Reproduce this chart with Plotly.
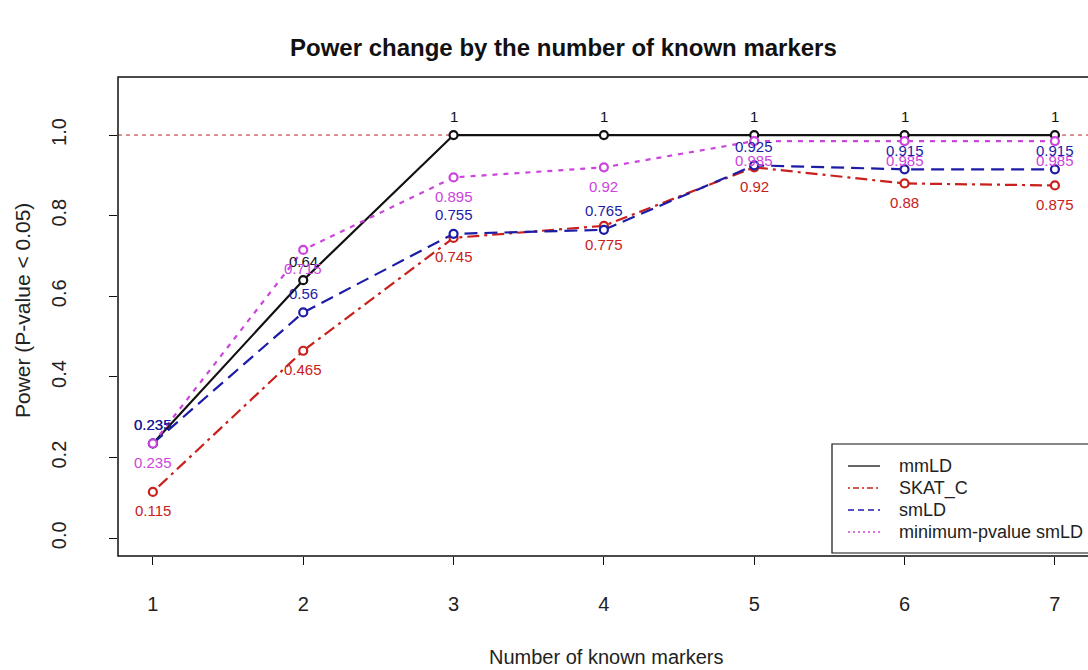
import plotly.graph_objects as go

# Power of each test by number of known markers
markers = [1, 2, 3, 4, 5, 6, 7]
mmld = [0.235, 0.64, 1.0, 1.0, 1.0, 1.0, 1.0]
skat_c = [0.115, 0.465, 0.745, 0.775, 0.92, 0.88, 0.875]
smld = [0.235, 0.56, 0.755, 0.765, 0.925, 0.915, 0.915]
minp_smld = [0.235, 0.715, 0.895, 0.92, 0.985, 0.985, 0.985]
x_ticks = [1, 2, 3, 4, 5, 6, 7]
y_ticks = [0.0, 0.2, 0.4, 0.6, 0.8, 1.0]
series_names = ["mmLD", "SKAT_C", "smLD", "minimum-pvalue smLD"]

FONT = "Liberation Sans, Arial, sans-serif"
W, H = 1088, 670
L, T, B = 118, 77, 556          # plot area edges in pixels
PW = W - L
PH = B - T


def px_x(px):
    return (px - L) / PW


def px_y(py):
    return (B - py) / PH


series = [
    # values, colour, dash, label side (+1 above, -1 below)
    (mmld, "#111111", "solid", 1),
    (skat_c, "#c8201c", "3px,5px,12px,5px", -1),
    (smld, "#1c1ca6", "13px,7px", 1),
    (minp_smld, "#cc44dd", "5px,6px", -1),
]
legend_dash = ["solid", "2px,3px,6px,3px", "6px,4px", "2px,3px"]

fig = go.Figure()

for (vals, col, dash, side), name in zip(series, series_names):
    fig.add_trace(go.Scatter(
        x=markers, y=vals, mode="lines+markers", name=name,
        line=dict(color=col, width=2.2, dash=dash),
        marker=dict(symbol="circle", size=8, color="white",
                    line=dict(color=col, width=2.2)),
        showlegend=False, cliponaxis=False,
    ))

annotations = []
for (vals, col, dash, side), name in zip(series, series_names):
    for xv, yv in zip(markers, vals):
        annotations.append(dict(
            x=xv, y=yv, xref="x", yref="y", text=f"{yv:g}",
            showarrow=False, yshift=19 * side,
            font=dict(family=FONT, size=15, color=col),
        ))

# title and axis titles
annotations.append(dict(
    x=px_x(563), y=px_y(47), xref="paper", yref="paper",
    text="<b>Power change by the number of known markers</b>",
    showarrow=False, xanchor="center", yanchor="middle",
    font=dict(family=FONT, size=24, color="#111111"),
))
annotations.append(dict(
    x=px_x(606), y=px_y(657), xref="paper", yref="paper",
    text="Number of known markers", showarrow=False,
    xanchor="center", yanchor="middle",
    font=dict(family=FONT, size=20, color="#222222"),
))
annotations.append(dict(
    x=px_x(22), y=px_y(311), xref="paper", yref="paper",
    text="Power (P-value < 0.05)", showarrow=False, textangle=-90,
    xanchor="center", yanchor="middle",
    font=dict(family=FONT, size=21, color="#222222"),
))

shapes = []
# reference line at full power
shapes.append(dict(type="line", xref="paper", yref="y", x0=0, x1=1.05,
                   y0=1.0, y1=1.0, layer="below",
                   line=dict(color="#b02a2a", width=1, dash="4px,4px")))
# plot frame (right side runs past the page edge)
shapes.append(dict(type="rect", xref="paper", yref="paper",
                   x0=0, x1=1.05, y0=0, y1=1,
                   line=dict(color="#111111", width=1.5)))

# legend box
shapes.append(dict(type="rect", xref="paper", yref="paper",
                   x0=px_x(832), x1=1.05, y0=px_y(553), y1=px_y(444),
                   fillcolor="white", line=dict(color="#111111", width=1.2)))
leg_rows = [466, 488, 510, 532]
for (vals, col, dash, side), name, ld, ry in zip(series, series_names,
                                                 legend_dash, leg_rows):
    shapes.append(dict(type="line", xref="paper", yref="paper",
                       x0=px_x(848), x1=px_x(880), y0=px_y(ry), y1=px_y(ry),
                       line=dict(color=col, width=1.3, dash=ld)))
    annotations.append(dict(
        x=px_x(897), y=px_y(ry), xref="paper", yref="paper", text=name,
        showarrow=False, xanchor="left", yanchor="middle",
        font=dict(family=FONT, size=18, color="#222222"),
    ))

fig.update_layout(
    width=W, height=H,
    margin=dict(l=L, r=0, t=T, b=H - B, pad=0),
    plot_bgcolor="white", paper_bgcolor="white",
    font=dict(family=FONT, size=20, color="#222222"),
    shapes=shapes, annotations=annotations,
    showlegend=False,
)
fig.update_xaxes(
    range=[0.768, 7.22], tickmode="array", tickvals=x_ticks,
    ticktext=[str(v) for v in x_ticks],
    ticks="outside", ticklen=8, tickwidth=1.2, tickcolor="#111111",
    showgrid=False, zeroline=False, showline=False,
    ticklabelstandoff=22, tickfont=dict(family=FONT, size=20, color="#222222"),
)
fig.update_yaxes(
    range=[-0.044, 1.144], tickmode="array", tickvals=y_ticks,
    ticktext=[f"{v:.1f}" for v in y_ticks],
    ticks="outside", ticklen=8, tickwidth=1.2, tickcolor="#111111",
    showgrid=False, zeroline=False, showline=False, tickangle=-90,
    ticklabelstandoff=35, tickfont=dict(family=FONT, size=20, color="#222222"),
)

fig.write_html("out.html")
